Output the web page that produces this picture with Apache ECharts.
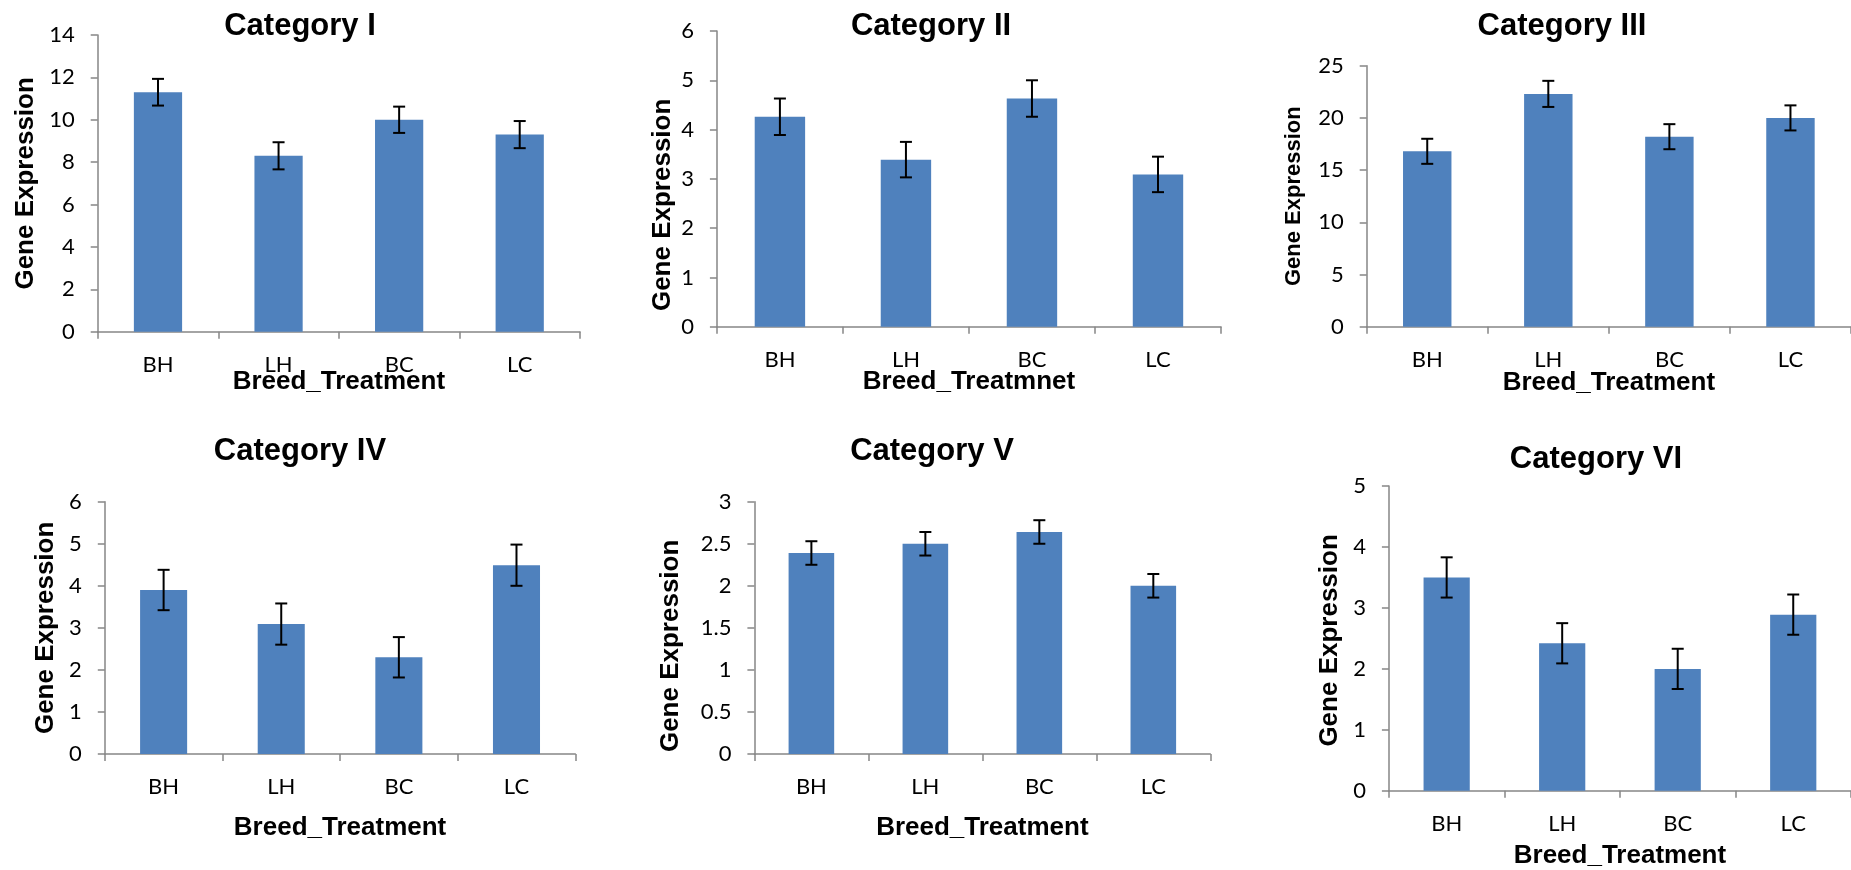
<!DOCTYPE html>
<html>
<head>
<meta charset="utf-8">
<title>Gene Expression by Breed_Treatment</title>
<script src="https://cdn.jsdelivr.net/npm/echarts@6/dist/echarts.min.js"></script>
<style>
  html, body { margin: 0; padding: 0; background: #fff; }
  #chart { width: 1851px; height: 870px; }
</style>
</head>
<body>
<div id="chart"></div>
<script>
// ---- data ----
const categories = ['BH', 'LH', 'BC', 'LC'];
const panelTitles = ['Category I', 'Category II', 'Category III', 'Category IV', 'Category V', 'Category VI'];
const xAxisNames = ['Breed_Treatment', 'Breed_Treatmnet', 'Breed_Treatment', 'Breed_Treatment', 'Breed_Treatment', 'Breed_Treatment'];
const yAxisName = 'Gene Expression';

const meanI   = [11.3, 8.3, 10.0, 9.3];
const errI    = [0.63, 0.64, 0.62, 0.64];
const meanII  = [4.26, 3.39, 4.63, 3.09];
const errII   = [0.37, 0.36, 0.37, 0.36];
const meanIII = [16.8, 22.3, 18.2, 20.0];
const errIII  = [1.2, 1.25, 1.2, 1.2];
const meanIV  = [3.9, 3.09, 2.3, 4.49];
const errIV   = [0.48, 0.49, 0.48, 0.49];
const meanV   = [2.39, 2.5, 2.64, 2.0];
const errV    = [0.14, 0.14, 0.14, 0.14];
const meanVI  = [3.5, 2.42, 2.0, 2.89];
const errVI   = [0.33, 0.33, 0.33, 0.33];

const yMaxTicks  = [14, 6, 25, 6, 3, 5];
const yTickSteps = [2, 1, 5, 1, 0.5, 1];

const means = [meanI, meanII, meanIII, meanIV, meanV, meanVI];
const errs  = [errI, errII, errIII, errIV, errV, errVI];

// ---- panel layout (pixels) ----
const layout = [
  { left: 97.7,   top: 35,    width: 482.3, height: 296.7, titleX: 300,  titleTop: 11,  xGap: 37.6, yGap: 59, yFont: 26, yShift: 0 },
  { left: 716.9,  top: 31,    width: 504.1, height: 295.7, titleX: 931,  titleTop: 11,  xGap: 42.6, yGap: 41, yFont: 26, yShift: 26 },
  { left: 1366.7, top: 65.7,  width: 488.3, height: 261,   titleX: 1562, titleTop: 11,  xGap: 43.2, yGap: 62, yFont: 22, yShift: 0 },
  { left: 104.8,  top: 501.7, width: 470.5, height: 252.3, titleX: 300,  titleTop: 436, xGap: 61,   yGap: 46, yFont: 26, yShift: 0 },
  { left: 754.4,  top: 501.7, width: 455.9, height: 252.3, titleX: 932,  titleTop: 436, xGap: 60.6, yGap: 71, yFont: 26, yShift: 18 },
  { left: 1388.9, top: 486,   width: 476.9, height: 306.7, titleX: 1596, titleTop: 444, xGap: 52.2, yGap: 46, yFont: 26, yShift: 2 }
];

const BAR_COLOR = '#4F81BD';
const AXIS_COLOR = '#868686';
const LABEL_FONT = 'Lato';
const BOLD_FONT = '"Liberation Sans", Arial, sans-serif';

// error bar: vertical whisker with horizontal caps
function renderErrorBar(params, api) {
  const idx = api.value(0);
  const lo = api.coord([idx, api.value(1)]);
  const hi = api.coord([idx, api.value(2)]);
  const cap = 6;
  const style = { stroke: '#000', lineWidth: 2 };
  return {
    type: 'group',
    children: [
      { type: 'line', shape: { x1: hi[0], y1: hi[1], x2: lo[0], y2: lo[1] }, style: style },
      { type: 'line', shape: { x1: hi[0] - cap, y1: hi[1], x2: hi[0] + cap, y2: hi[1] }, style: style },
      { type: 'line', shape: { x1: lo[0] - cap, y1: lo[1], x2: lo[0] + cap, y2: lo[1] }, style: style }
    ]
  };
}

const option = {
  animation: false,
  backgroundColor: '#ffffff',
  title: [],
  grid: [],
  xAxis: [],
  yAxis: [],
  series: []
};

layout.forEach(function (p, i) {
  option.title.push({
    text: panelTitles[i],
    left: p.titleX,
    top: p.titleTop,
    textAlign: 'center',
    padding: 0,
    textStyle: { fontFamily: BOLD_FONT, fontWeight: 'bold', fontSize: 31, color: '#000' }
  });

  option.grid.push({ left: p.left, top: p.top, width: p.width, height: p.height, containLabel: false });

  option.xAxis.push({
    type: 'category',
    gridIndex: i,
    data: categories,
    boundaryGap: true,
    name: xAxisNames[i],
    nameLocation: 'middle',
    nameGap: p.xGap,
    nameMoveOverlap: false,
    nameTextStyle: { fontFamily: BOLD_FONT, fontWeight: 'bold', fontSize: 26, color: '#000' },
    axisLine: { show: true, lineStyle: { color: AXIS_COLOR, width: 1.5 } },
    axisTick: { show: true, alignWithLabel: false, length: 7, lineStyle: { color: AXIS_COLOR, width: 1.5 } },
    axisLabel: { margin: 22, fontFamily: LABEL_FONT, fontSize: 22, color: '#000' },
    splitLine: { show: false }
  });

  option.yAxis.push({
    type: 'value',
    gridIndex: i,
    min: 0,
    max: yMaxTicks[i],
    interval: yTickSteps[i],
    name: yAxisName,
    nameLocation: 'middle',
    nameGap: p.yGap,
    nameMoveOverlap: false,
    nameTextStyle: {
      fontFamily: BOLD_FONT, fontWeight: 'bold', fontSize: p.yFont, color: '#000',
      padding: [0, p.yShift * 2, 0, 0]
    },
    axisLine: { show: true, lineStyle: { color: AXIS_COLOR, width: 1.5 } },
    axisTick: { show: true, length: 7, lineStyle: { color: AXIS_COLOR, width: 1.5 } },
    axisLabel: { margin: 23, fontFamily: LABEL_FONT, fontSize: 22, color: '#000' },
    splitLine: { show: false }
  });

  option.series.push({
    type: 'bar',
    xAxisIndex: i,
    yAxisIndex: i,
    data: means[i],
    barWidth: '40%',
    itemStyle: { color: BAR_COLOR },
    silent: true
  });

  option.series.push({
    type: 'custom',
    xAxisIndex: i,
    yAxisIndex: i,
    renderItem: renderErrorBar,
    encode: { x: 0, y: [1, 2] },
    data: means[i].map(function (m, k) { return [k, m - errs[i][k], m + errs[i][k]]; }),
    z: 5,
    silent: true
  });
});

const chart = echarts.init(document.getElementById('chart'), null, { renderer: 'canvas' });
chart.setOption(option);
</script>
</body>
</html>
